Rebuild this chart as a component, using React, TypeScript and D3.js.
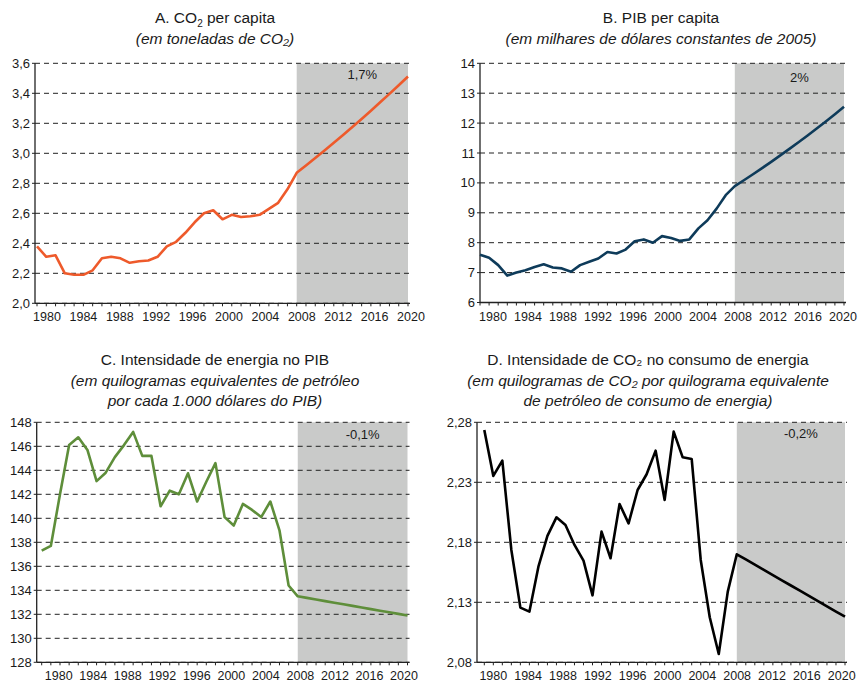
import React from "react";
import * as d3 from "d3";

const YEARS = [1980, 1981, 1982, 1983, 1984, 1985, 1986, 1987, 1988, 1989, 1990, 1991, 1992, 1993, 1994, 1995, 1996, 1997, 1998, 1999, 2000, 2001, 2002, 2003, 2004, 2005, 2006, 2007, 2008, 2009, 2010, 2011, 2012, 2013, 2014, 2015, 2016, 2017, 2018, 2019, 2020];
const TICK_YEARS = [1980, 1984, 1988, 1992, 1996, 2000, 2004, 2008, 2012, 2016, 2020];
const PROJ_START = 2008;

const CO2_PC = [2.38, 2.31, 2.32, 2.2, 2.19, 2.19, 2.22, 2.3, 2.31, 2.3, 2.27, 2.28, 2.285, 2.31, 2.38, 2.41, 2.47, 2.54, 2.6, 2.62, 2.56, 2.59, 2.575, 2.58, 2.59, 2.63, 2.67, 2.76, 2.87, 2.919, 2.968, 3.019, 3.07, 3.122, 3.175, 3.229, 3.284, 3.34, 3.396, 3.454, 3.512];
const PIB_PC = [7.6, 7.5, 7.25, 6.9, 7.0, 7.08, 7.19, 7.28, 7.17, 7.14, 7.03, 7.25, 7.36, 7.47, 7.69, 7.64, 7.77, 8.05, 8.11, 8.0, 8.22, 8.16, 8.06, 8.11, 8.48, 8.75, 9.14, 9.59, 9.89, 10.088, 10.29, 10.496, 10.705, 10.919, 11.138, 11.361, 11.588, 11.82, 12.056, 12.297, 12.543];
const ENERGIA_PIB = [137.3, 137.7, 142.0, 146.1, 146.75, 145.7, 143.1, 143.8, 145.1, 146.1, 147.2, 145.2, 145.2, 141.0, 142.3, 142.0, 143.75, 141.4, 143.05, 144.6, 140.1, 139.4, 141.2, 140.7, 140.1, 141.4, 139.0, 134.4, 133.5, 133.367, 133.233, 133.1, 132.967, 132.833, 132.7, 132.567, 132.433, 132.3, 132.167, 132.033, 131.9];
const CO2_ENERGIA = [2.2736, 2.2353, 2.248, 2.1736, 2.1256, 2.1222, 2.1597, 2.1853, 2.2008, 2.1944, 2.1778, 2.1647, 2.1358, 2.1889, 2.1667, 2.2119, 2.1958, 2.2236, 2.2367, 2.2564, 2.2153, 2.2722, 2.2508, 2.2494, 2.1653, 2.1175, 2.0869, 2.1389, 2.17, 2.16567, 2.16133, 2.157, 2.15267, 2.14833, 2.144, 2.13967, 2.13533, 2.131, 2.12667, 2.12233, 2.118];

const TICKS_A = [2.0, 2.2, 2.4, 2.6, 2.8, 3.0, 3.2, 3.4, 3.6];
const TICKS_B = [6, 7, 8, 9, 10, 11, 12, 13, 14];
const TICKS_C = [128, 130, 132, 134, 136, 138, 140, 142, 144, 146, 148];
const TICKS_D = [2.08, 2.13, 2.18, 2.23, 2.28];

const RATES = ["1,7%", "2%", "-0,1%", "-0,2%"];

const FONT = "'Liberation Sans', Arial, sans-serif";
const TEXT = "#1a1a1a";

type PanelProps = {
  values: number[];
  ticks: number[];
  decimals: number;
  color: string;
  axisX: number;
  x0: number;
  x1: number;
  yTop: number;
  yBot: number;
  lab0: number;
  lab1: number;
  rate: string;
  rateY: number;
};

function fmt(v: number, dec: number) {
  return v.toFixed(dec).replace(".", ",");
}

function Panel(p: PanelProps) {
  const x = d3.scaleLinear().domain([YEARS[0], YEARS[YEARS.length - 1]]).range([p.x0, p.x1]);
  const xl = d3.scaleLinear().domain([TICK_YEARS[0], TICK_YEARS[TICK_YEARS.length - 1]]).range([p.lab0, p.lab1]);
  const y = d3.scaleLinear().domain([p.ticks[0], p.ticks[p.ticks.length - 1]]).range([p.yBot, p.yTop]);
  const line = d3
    .line<number>()
    .x((_, i) => x(YEARS[i]))
    .y((d) => y(d));
  const gx = x(PROJ_START);
  const right = p.x1;
  return (
    <g>
      <rect x={gx} y={p.yTop} width={right - gx} height={p.yBot - p.yTop} fill="#c9cac9" />
      {p.ticks.map((t) => (
        <g key={t}>
          <line
            x1={p.axisX}
            x2={right + 2}
            y1={y(t)}
            y2={y(t)}
            stroke="#222"
            strokeWidth={1}
            strokeDasharray="5,4"
          />
          <line x1={p.axisX - 3} x2={p.axisX} y1={y(t)} y2={y(t)} stroke="#222" strokeWidth={1} />
          <text
            x={p.axisX - 5}
            y={y(t)}
            dy="0.35em"
            textAnchor="end"
            fontSize={13}
            fontFamily={FONT}
            fill={TEXT}
          >
            {fmt(t, p.decimals)}
          </text>
        </g>
      ))}
      <line x1={p.axisX} x2={p.axisX} y1={p.yTop} y2={p.yBot} stroke="#222" strokeWidth={1.3} />
      <line x1={p.axisX} x2={right + 2} y1={p.yBot} y2={p.yBot} stroke="#222" strokeWidth={1.3} />
      {YEARS.map((yr) => (
        <line key={yr} x1={x(yr)} x2={x(yr)} y1={p.yBot} y2={p.yBot + 3} stroke="#222" strokeWidth={1} />
      ))}
      {TICK_YEARS.map((yr) => (
        <text
          key={yr}
          x={xl(yr)}
          y={p.yBot + 18}
          textAnchor="middle"
          fontSize={12.5}
          fontFamily={FONT}
          fill={TEXT}
        >
          {yr}
        </text>
      ))}
      <path d={line(p.values) || ""} fill="none" stroke={p.color} strokeWidth={2.6} strokeLinejoin="round" />
      <text
        x={(gx + right) / 2 + 10}
        y={p.rateY}
        dy="0.35em"
        textAnchor="middle"
        fontSize={13}
        fontFamily={FONT}
        fill={TEXT}
      >
        {p.rate}
      </text>
    </g>
  );
}

function Title({ cx, y, lines }: { cx: number; y: number; lines: React.ReactNode[] }) {
  return (
    <g>
      {lines.map((l, i) => (
        <text
          key={i}
          x={cx}
          y={y + i * 20.5}
          textAnchor="middle"
          fontSize={15.5}
          fontFamily={FONT}
          fill={TEXT}
          fontStyle={i === 0 ? "normal" : "italic"}
        >
          {l}
        </text>
      ))}
    </g>
  );
}

export default function App() {
  return (
    <svg
      width={862}
      height={683}
      style={{ position: "absolute", left: 0, top: 0, background: "#fff" }}
    >
      <rect x={0} y={0} width={862} height={683} fill="#fff" />
      <Title
        cx={215}
        y={23}
        lines={[
          <>
            A. CO<tspan fontSize={10} dy={4}>2</tspan>
            <tspan dy={-4}> per capita</tspan>
          </>,
          "(em toneladas de CO₂)",
        ]}
      />
      <Title cx={661} y={23} lines={["B. PIB per capita", "(em milhares de dólares constantes de 2005)"]} />
      <Title
        cx={215}
        y={365}
        lines={[
          "C. Intensidade de energia no PIB",
          "(em quilogramas equivalentes de petróleo",
          "por cada 1.000 dólares do PIB)",
        ]}
      />
      <Title
        cx={648}
        y={365}
        lines={[
          "D. Intensidade de CO₂ no consumo de energia",
          "(em quilogramas de CO₂ por quilograma equivalente",
          "de petróleo de consumo de energia)",
        ]}
      />
      <Panel
        values={CO2_PC}
        ticks={TICKS_A}
        decimals={1}
        color="#ee5a2b"
        axisX={35}
        x0={37}
        x1={408}
        yTop={63.3}
        yBot={303.3}
        lab0={47}
        lab1={411}
        rate={RATES[0]}
        rateY={74}
      />
      <Panel
        values={PIB_PC}
        ticks={TICKS_B}
        decimals={0}
        color="#0e3b5a"
        axisX={480}
        x0={480}
        x1={844}
        yTop={63.3}
        yBot={302.5}
        lab0={493}
        lab1={843}
        rate={RATES[1]}
        rateY={77}
      />
      <Panel
        values={ENERGIA_PIB}
        ticks={TICKS_C}
        decimals={0}
        color="#5e8e3a"
        axisX={36.7}
        x0={41.7}
        x1={407.5}
        yTop={422.3}
        yBot={662.3}
        lab0={58.7}
        lab1={404}
        rate={RATES[2]}
        rateY={434}
      />
      <Panel
        values={CO2_ENERGIA}
        ticks={TICKS_D}
        decimals={2}
        color="#000000"
        axisX={477}
        x0={484.3}
        x1={845}
        yTop={422.3}
        yBot={662.3}
        lab0={493.3}
        lab1={841.7}
        rate={RATES[3]}
        rateY={433}
      />
    </svg>
  );
}
